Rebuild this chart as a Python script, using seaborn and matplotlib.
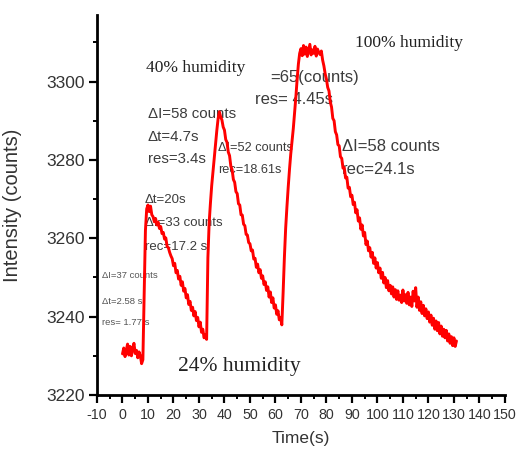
import numpy as np
import pandas as pd
import matplotlib
matplotlib.use("Agg")
import matplotlib.pyplot as plt
from matplotlib.ticker import MultipleLocator
import seaborn as sns

# Trace, one value every 0.5 s starting at t = 0 s
t_step = 0.5

# 24% humidity pulse, t = 0.0 ... 33.0 s
intensity_24 = [
    3230.5, 3232.0, 3229.8, 3231.5, 3233.0, 3230.2, 3232.4, 3230.0, 3231.8, 3233.2,
    3230.6, 3231.4, 3229.5, 3231.0, 3230.0, 3228.0, 3229.0, 3245.0, 3262.0, 3267.5,
    3268.5, 3266.8, 3268.2, 3266.0, 3265.5, 3264.2, 3265.0, 3263.4, 3264.1, 3262.5,
    3263.0, 3261.2, 3261.5, 3259.8, 3260.1, 3257.9, 3257.6, 3256.4, 3255.5, 3254.8,
    3253.0, 3253.6, 3251.2, 3251.8, 3249.6, 3250.3, 3248.0, 3248.9, 3246.5, 3247.2,
    3244.8, 3245.6, 3243.1, 3243.9, 3241.6, 3242.4, 3240.2, 3241.3, 3239.0, 3239.8,
    3237.4, 3238.6, 3236.0, 3236.8, 3234.6, 3235.4, 3234.2,
]

# 40% humidity pulse, t = 33.5 ... 62.5 s
intensity_40 = [
    3255.0, 3264.0, 3269.0,
    3273.5, 3277.0, 3280.5, 3284.0, 3287.5, 3290.5, 3292.3, 3291.0, 3290.2, 3288.4,
    3287.6, 3285.2, 3284.5, 3282.0, 3281.1, 3278.4, 3277.5, 3275.0, 3274.3, 3271.9,
    3271.4, 3268.8, 3268.5, 3266.0, 3265.9, 3263.6, 3263.2, 3261.0, 3260.8, 3258.9,
    3258.6, 3256.8, 3257.0, 3254.7, 3254.9, 3252.6, 3253.4, 3251.2, 3252.0, 3249.8,
    3250.4, 3248.2, 3248.9, 3246.7, 3247.6, 3245.0, 3246.3, 3243.6, 3244.8, 3242.2,
    3243.0, 3240.6, 3241.5, 3239.2, 3239.8, 3237.9,
]

# 100% humidity pulse, t = 63.0 ... 131.0 s
intensity_100 = [
    3246.0, 3255.0, 3262.5, 3268.0,
    3273.0, 3277.5, 3281.5, 3284.8, 3288.0, 3292.0, 3296.0, 3300.5, 3304.5, 3307.2,
    3308.4, 3306.6, 3309.2, 3307.0, 3308.8, 3306.4, 3307.9, 3309.5, 3306.8, 3308.1,
    3307.2, 3309.0, 3306.5, 3308.3, 3307.4, 3306.9, 3307.8, 3305.5, 3304.0, 3302.0,
    3300.6, 3298.5, 3297.6, 3294.8, 3293.5, 3290.6, 3290.0, 3287.2, 3286.4, 3283.9,
    3283.6, 3280.8, 3280.4, 3277.9, 3278.0, 3275.4, 3275.6, 3272.8, 3273.0, 3270.6,
    3271.0, 3268.6, 3269.2, 3266.5, 3267.3, 3264.4, 3265.2, 3262.3, 3263.4, 3260.6,
    3261.5, 3258.4, 3259.3, 3256.8, 3257.6, 3255.2, 3256.4, 3253.6, 3255.0, 3252.4,
    3253.8, 3251.2, 3252.4, 3249.8, 3251.3, 3248.6, 3250.0, 3247.4, 3249.2, 3246.6,
    3248.0, 3245.8, 3247.6, 3245.0, 3246.9, 3244.4, 3246.6, 3244.2, 3245.5, 3243.6,
    3246.8, 3244.0, 3245.6, 3243.4, 3246.2, 3243.0, 3245.0, 3242.6, 3246.5, 3244.0,
    3247.4, 3242.4, 3245.0, 3241.6, 3243.8, 3240.8, 3242.9, 3240.2, 3242.0, 3239.5,
    3241.2, 3238.6, 3240.4, 3237.8, 3239.6, 3236.8, 3238.9, 3236.4, 3238.5, 3235.6,
    3237.6, 3235.0, 3236.8, 3234.6, 3236.5, 3233.8, 3235.6, 3233.2, 3234.9, 3232.6,
    3234.6, 3232.4, 3233.8,
]

intensity = intensity_24 + intensity_40 + intensity_100
time = np.arange(len(intensity)) * t_step
df = pd.DataFrame({"Time(s)": time, "Intensity (counts)": intensity})

sns.set_style("ticks")
SANS = ["Liberation Sans", "DejaVu Sans"]
SERIF = ["Liberation Serif", "DejaVu Serif"]
plt.rcParams["font.family"] = SANS
plt.rcParams["axes.unicode_minus"] = False  # plain hyphen in "-10"

fig = plt.figure(figsize=(5.17, 4.53), dpi=100)
ax = fig.add_axes([0.1876, 0.128, 0.789, 0.839])

# annotations first, the trace is drawn over them like in the original
txt = "#3c3c3c"
ax.text(9.1, 3303.5, "40% humidity", family=SERIF, fontsize=12.5, color="#222222", va="center")
ax.text(91.2, 3309.9, "100% humidity", family=SERIF, fontsize=12.5, color="#222222", va="center")
ax.text(21.8, 3227.2, "24% humidity", family=SERIF, fontsize=15.5, color="#222222", va="center")

ax.text(10.0, 3291.8, "ΔI=58 counts", fontsize=10.8, color=txt, va="center")
ax.text(10.0, 3285.9, "Δt=4.7s", fontsize=10.8, color=txt, va="center")
ax.text(10.0, 3280.3, "res=3.4s", fontsize=10.8, color=txt, va="center")

ax.text(8.8, 3269.8, "Δt=20s", fontsize=9.5, color=txt, va="center")
ax.text(8.8, 3263.9, "ΔI=33 counts", fontsize=9.5, color=txt, va="center")
ax.text(8.8, 3257.8, "rec=17.2 s", fontsize=9.5, color=txt, va="center")

ax.text(-8.0, 3250.4, "ΔI=37 counts", fontsize=6.8, color="#555555", va="center")
ax.text(-8.0, 3243.8, "Δt=2.58 s", fontsize=6.8, color="#555555", va="center")
ax.text(-8.0, 3238.6, "res= 1.77 s", fontsize=6.8, color="#555555", va="center")

ax.text(37.5, 3283.1, "ΔI=52 counts", fontsize=9.2, color=txt, va="center")
ax.text(37.5, 3277.5, "rec=18.61s", fontsize=9.2, color=txt, va="center")

ax.text(57.8, 3301.0, "=65(counts)", fontsize=12, color=txt, va="center")
ax.text(52.0, 3295.4, "res= 4.45s", fontsize=12, color=txt, va="center")

ax.text(86.1, 3283.3, "ΔI=58 counts", fontsize=12, color=txt, va="center")
ax.text(86.1, 3277.5, "rec=24.1s", fontsize=12, color=txt, va="center")

sns.lineplot(data=df, x="Time(s)", y="Intensity (counts)", ax=ax,
             color="#ff0000", linewidth=2.1, estimator=None, sort=False, zorder=5)

ax.set_xlim(-10, 150)
ax.set_ylim(3220, 3317)
ax.xaxis.set_major_locator(MultipleLocator(10))
ax.xaxis.set_minor_locator(MultipleLocator(5))
ax.yaxis.set_major_locator(MultipleLocator(20))
ax.yaxis.set_minor_locator(MultipleLocator(10))

sns.despine(ax=ax)
for side in ("left", "bottom"):
    ax.spines[side].set_linewidth(2.0)
    ax.spines[side].set_color("black")

ax.tick_params(which="major", direction="out", length=5.5, width=1.6, color="black")
ax.tick_params(which="minor", direction="out", length=3, width=1.4, color="black")
ax.tick_params(axis="y", which="major", labelsize=12.5, labelcolor="#333333", pad=3)
ax.tick_params(axis="x", which="major", labelsize=10.3, labelcolor="#333333", pad=4)

ax.set_xlabel("Time(s)", fontsize=12.5, color="#333333", labelpad=6)
ax.set_ylabel("Intensity (counts)", fontsize=14.5, color="#333333", labelpad=18)

fig.savefig("out.png", dpi=100)
